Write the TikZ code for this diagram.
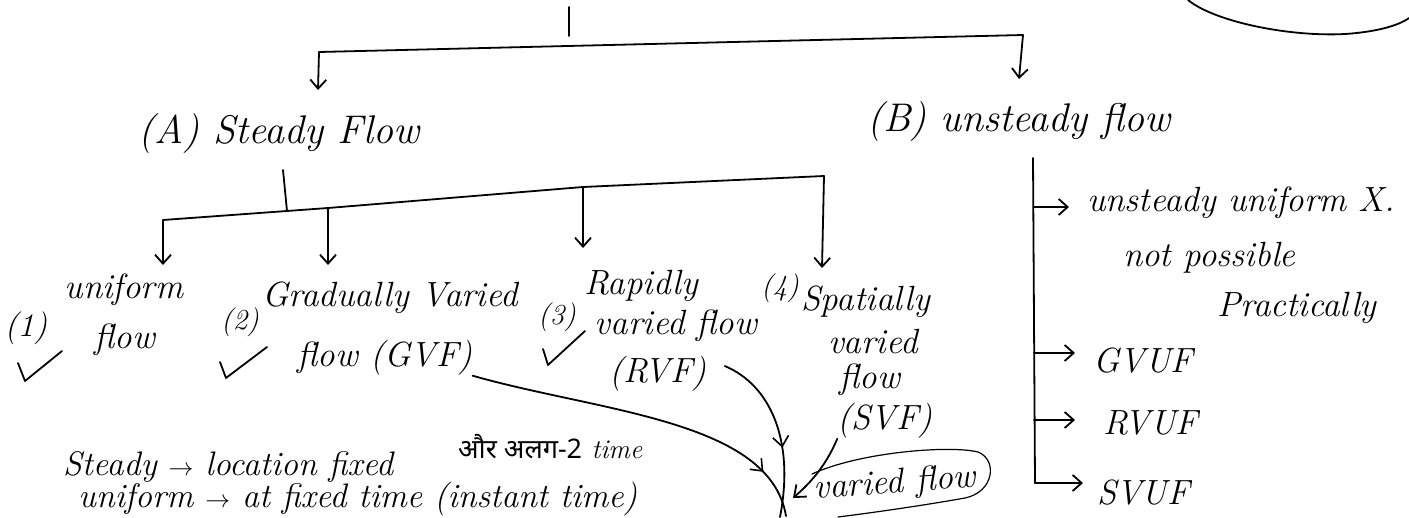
\documentclass[tikz,border=0pt]{standalone}
\usepackage{fontspec}
\newfontfamily\devfont[Script=Devanagari]{Noto Sans}
\usetikzlibrary{arrows.meta,decorations.markings}
\begin{document}
\begin{tikzpicture}[x=1pt,y=-1pt,
  ink/.style={line width=1.8pt, line cap=round, line join=round, draw=black},
  thinink/.style={line width=1.2pt, line cap=round, line join=round, draw=black},
  harrow/.style={ink, -{Straight Barb[length=9pt,width=16pt]}},
  midarr/.style={postaction={decorate}, decoration={markings,
      mark=at position #1 with {\arrow[line width=1.6pt]{Straight Barb[length=10pt,width=16pt]}}}},
  head/.style={inner sep=0pt, font=\fontsize{40}{44}\selectfont\itshape},
  itm/.style={inner sep=0pt, font=\fontsize{35}{40}\selectfont\itshape},
  num/.style={inner sep=0pt, font=\fontsize{29}{32}\selectfont\itshape},
  note/.style={inner sep=0pt, font=\fontsize{34}{38}\selectfont\itshape},
  small/.style={inner sep=0pt, font=\fontsize{27}{30}\selectfont\itshape},
]
\useasboundingbox (0,0) rectangle (1409,517);
\clip (0,0) rectangle (1409,517);
\fill[white] (0,0) rectangle (1409,517);

% ---------- top level ----------
\coordinate (root) at (569,7);
\coordinate (rootend) at (569,36);
\coordinate (tl) at (319,52);
\coordinate (tr) at (1023,35);
\coordinate (tipA) at (318,90);
\coordinate (tipB) at (1019,79);
\draw[ink] (root) -- (rootend);
\draw[ink] (tl) -- (tr);
\draw[harrow] (tl) -- (tipA);
\draw[harrow] (tr) -- (tipB);

\node[head] (A) at (279,134) {(A) Steady Flow};
\node[head] (B) at (1019,122) {(B) unsteady flow};

% top-right stroke
\draw[ink] (1188,0) .. controls (1215,22) and (1290,37) .. (1345,34) .. controls (1375,32) and (1398,26) .. (1409,18);

% ---------- steady flow subtree ----------
\coordinate (sA) at (283,170);
\coordinate (sAb) at (287,211);
\coordinate (b1) at (163,220);
\coordinate (b2) at (328,208);
\coordinate (b3) at (583,187);
\coordinate (b4) at (824,176);
\coordinate (t1) at (163,265);
\coordinate (t2) at (328,265);
\coordinate (t3) at (583,248);
\coordinate (t4) at (822,268);
\draw[ink] (sA) -- (sAb);
\draw[ink] (b1) -- (b2) -- (b3) -- (b4);
\draw[harrow] (b1) -- (t1);
\draw[harrow] (b2) -- (t2);
\draw[harrow] (b3) -- (t3);
\draw[harrow] (b4) -- (t4);

\node[num, font=\fontsize{33}{36}\selectfont\itshape] (n1) at (26,328) {(1)};
\node[itm] (u1) at (124,290) {uniform};
\node[itm] (u2) at (125,340) {flow};

\node[num] (n2) at (240,322) {(2)};
\node[itm] (g1) at (390,298) {Gradually Varied};
\node[itm] (g2) at (385,358) {flow (GVF)};

\node[itm] (r1) at (641,286) {Rapidly};
\node[num] (n3) at (557,317) {(3)};
\node[itm] (r2) at (676,326) {varied flow};
\node[itm] (r3) at (658,374) {(RVF)};

\node[num] (n4) at (780,288) {(4)};
\node[itm] (s1) at (866,302) {Spatially};
\node[itm] (s2) at (873,342) {varied};
\node[itm] (s3) at (870,380) {flow};
\node[itm] (s4) at (885,421) {(SVF)};

% check marks
\draw[ink] (18,363) -- (25,381) -- (62,351);
\draw[ink] (220,362) -- (226,378) -- (267,347);
\draw[ink] (543,349) -- (548,365) -- (585,331);

% converging arrows
\coordinate (c1) at (786,516);
\coordinate (c2) at (780,517);
\coordinate (c3) at (793,498);
\draw[ink, midarr=0.86] (g2.south east) .. controls (600,412) and (770,420) .. (c1);
\draw[ink, midarr=0.6] (r3.east) ++(18,-8) .. controls (770,385) and (795,440) .. (c2);
\draw[ink, -{Straight Barb[length=10pt,width=16pt]}] (s4.south west) .. controls (825,468) and (808,485) .. (c3);

\node[itm, rotate=4] (vf) at (895,484) {varied flow};
\draw[thinink] (812,474) .. controls (860,452) and (950,445) .. (978,452)
   .. controls (998,460) and (994,492) .. (965,498)
   .. controls (920,506) and (870,513) .. (838,517);

% ---------- unsteady subtree ----------
\coordinate (v0) at (1033,158);
\coordinate (v1) at (1034,207);
\coordinate (v2) at (1034,353);
\coordinate (v3) at (1034,420);
\coordinate (v4) at (1035,483);
\draw[ink] (v0) -- (v4);

\node[itm, anchor=west] (uu) at (1087,203) {unsteady uniform X.};
\node[itm, anchor=west] (np) at (1123,258) {not possible};
\node[itm, anchor=west] (pr) at (1217,308) {Practically};
\node[itm, anchor=west] (gv) at (1093,361) {GVUF};
\node[itm, anchor=west] (rv) at (1103,423) {RVUF};
\node[itm, anchor=west] (sv) at (1097,493) {SVUF};

\draw[harrow] (v1) -- ([xshift=-18pt]uu.west |- v1);
\draw[harrow] (v2) -- ([xshift=-18pt]gv.west |- v2);
\draw[harrow] (v3) -- ([xshift=-28pt]rv.west |- v3);
\draw[harrow] (v4) -- ([xshift=-14pt]sv.west |- v4);

% ---------- bottom notes ----------
\node[note, anchor=base west] (l1) at (63,475) {Steady $\rightarrow$ location fixed};
\node[small, anchor=base west] (dv) at (458,458) {{\devfont\upshape और अलग-2} time};
\node[note, anchor=base west] (l2) at (78,507) {uniform $\rightarrow$ at fixed time (instant time)};
\end{tikzpicture}
\end{document}
